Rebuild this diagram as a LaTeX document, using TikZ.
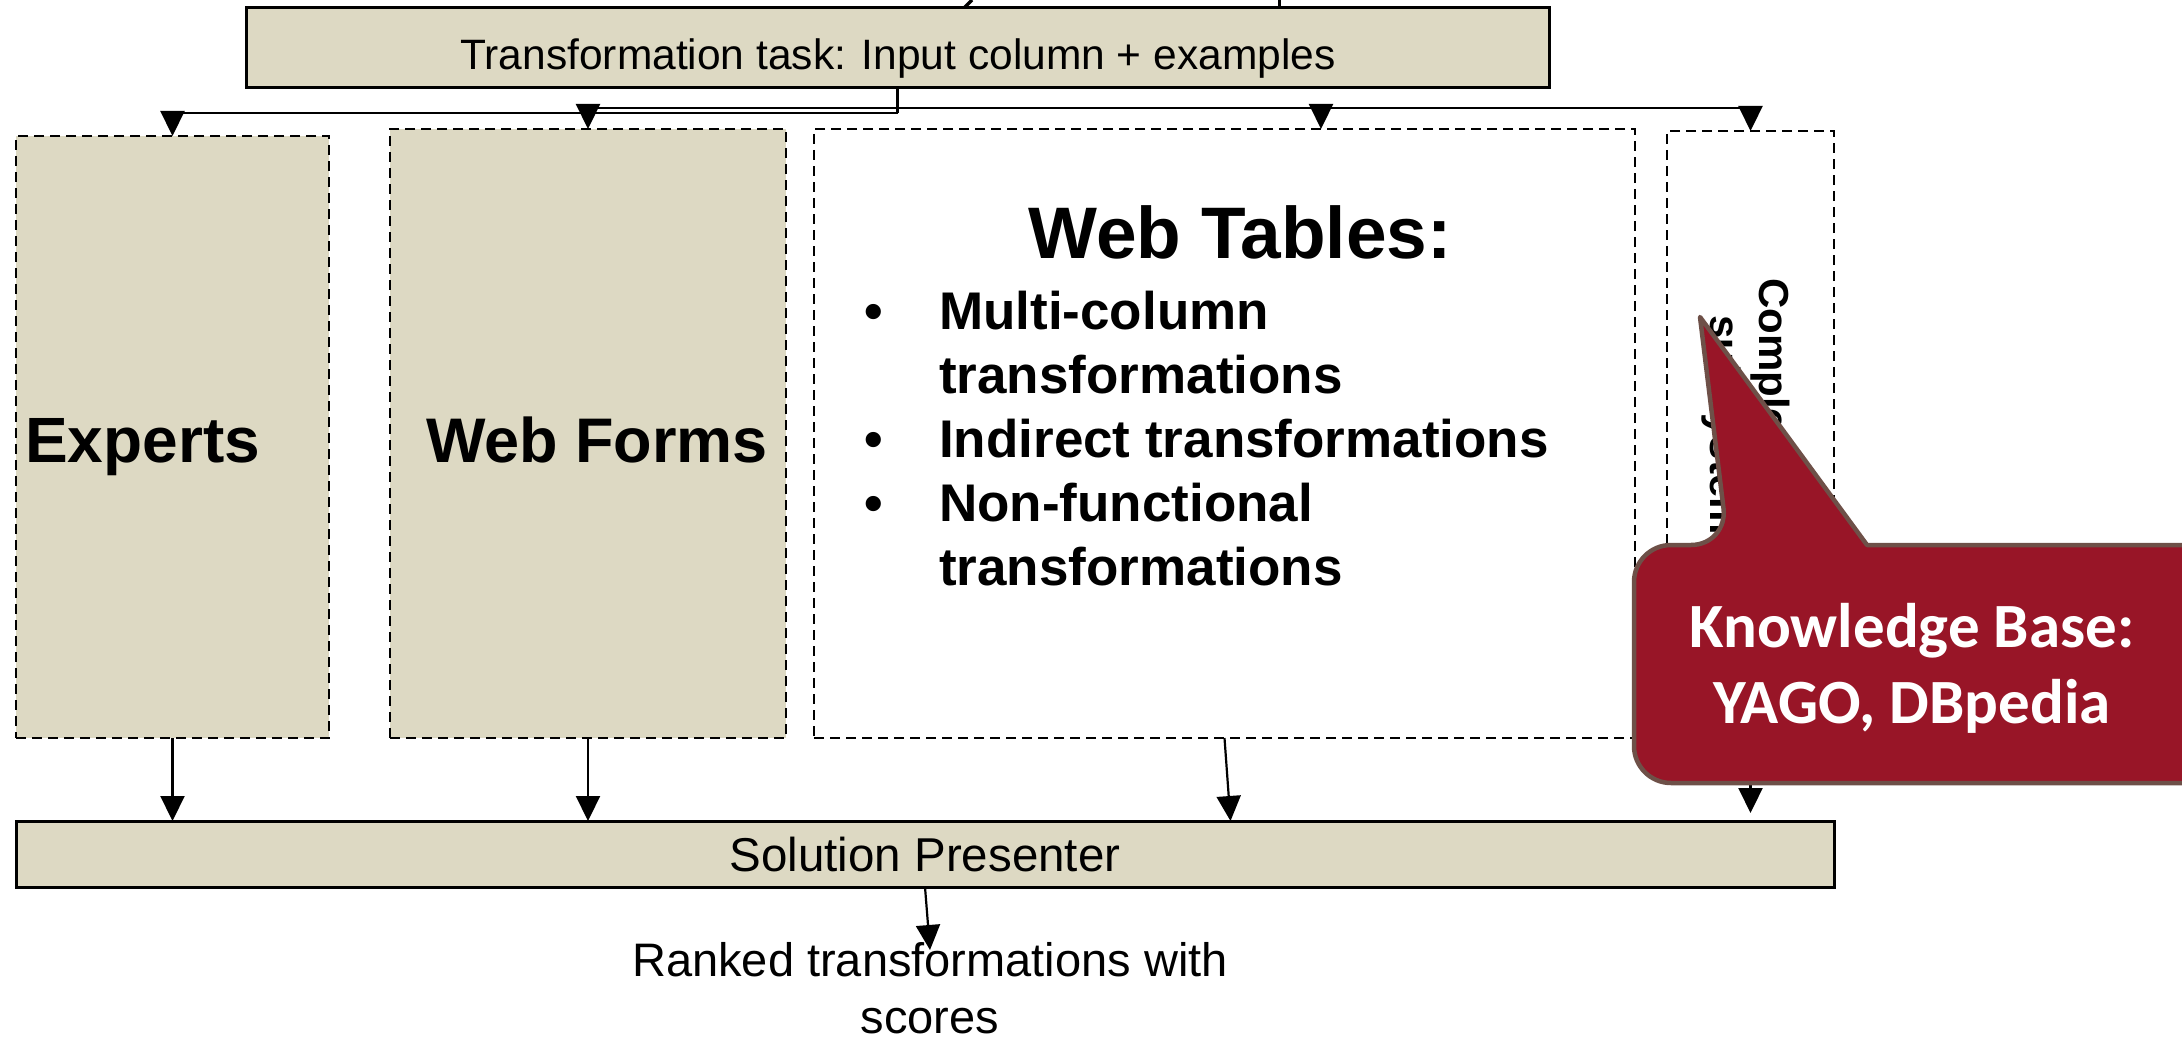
\documentclass[tikz,border=0pt]{standalone}
\usepackage{fontspec}
\setmainfont{Liberation Sans}
\newfontfamily\kbfont{Carlito}
\usetikzlibrary{arrows.meta,calc}
\definecolor{tanfill}{HTML}{DDD9C3}
\definecolor{kbred}{HTML}{981527}
\definecolor{kbedge}{HTML}{6E5048}
\begin{document}
\begin{tikzpicture}[x=1pt,y=-1pt,
  solidbox/.style={draw=black,line width=3pt,fill=tanfill,inner sep=0pt,outer sep=0pt},
  dashbox/.style={draw=black,line width=2.5pt,dash pattern=on 10pt off 6pt,inner sep=0pt,outer sep=0pt},
  conn/.style={draw=black,line width=2.2pt,-{Triangle[length=25pt,width=24pt]}},
  plainline/.style={draw=black,line width=2.2pt},
  bul/.style={anchor=base,font=\bfseries\fontsize{53}{64}\selectfont,inner sep=0pt},
  item/.style={anchor=base west,font=\bfseries\fontsize{53}{64}\selectfont,inner sep=0pt},
]
\useasboundingbox (0,0) rectangle (2182,1038);
\fill[white] (0,0) rectangle (2182,1038);
\clip (0,0) rectangle (2182,1038);

% fragments of cut-off title
\draw[line width=3.5pt] (972,0) -- (963,9);
\draw[line width=3pt] (1279,0) -- (1279,8);
\fill (1272,6) rectangle (1281,11);

% boxes
\node[solidbox,minimum width=1303pt,minimum height=80pt] (task) at (897.5,48) {};
\node[anchor=base,inner sep=0pt,font=\fontsize{42.5}{51}\selectfont] (tasktext) at (898,70) {Transformation task: Input column + examples};

\node[dashbox,fill=tanfill,minimum width=313pt,minimum height=602pt] (experts) at (172.5,437) {};
\node[dashbox,fill=tanfill,minimum width=396pt,minimum height=609pt] (webforms) at (588,433.5) {};
\node[dashbox,fill=white,minimum width=821pt,minimum height=609pt] (webtables) at (1224.5,433.5) {};
\node[dashbox,fill=white,minimum width=167pt,minimum height=607pt] (compl) at (1750.5,434.5) {};

\node[solidbox,minimum width=1818pt,minimum height=66pt] (sp) at (925,854) {};
\node[anchor=base,inner sep=0pt,font=\fontsize{47.5}{57}\selectfont] (sptext) at (925,871) {Solution Presenter};

% labels
\node[anchor=base west,inner sep=0pt,font=\bfseries\fontsize{64}{77}\selectfont] (expertstext) at (25,462) {Experts};
\node[anchor=base,inner sep=0pt,font=\bfseries\fontsize{63}{76}\selectfont] (webformstext) at (597,462) {Web Forms};

\node[anchor=base,inner sep=0pt,font=\bfseries\fontsize{73}{88}\selectfont] (wttitle) at (1240,258) {Web Tables:};
\node[bul] (b1) at (874,329) {\textbullet};
\node[item] (i1a) at (939,329) {Multi-column};
\node[item] (i1b) at (939,393) {transformations};
\node[bul] (b2) at (874,457) {\textbullet};
\node[item] (i2) at (939,457) {Indirect transformations};
\node[bul] (b3) at (874,521) {\textbullet};
\node[item] (i3a) at (939,521) {Non-functional};
\node[item] (i3b) at (939,585) {transformations};

\node[rotate=-90,align=center,inner sep=0pt,font=\bfseries\fontsize{42}{49}\selectfont] (compltext) at (1746,437) {Complementary\\subsystems};

\node[anchor=north,align=center,inner sep=0pt,font=\fontsize{47}{57}\selectfont] (result) at (930,942) {Ranked transformations with\\scores};

% top connectors
\coordinate (j1) at (897.5,113);
\coordinate (j2) at (897.5,108);
\draw[plainline] (task.south) -- (j1);
\draw[conn] (j1) -- (j1 -| experts.north) -- (experts.north);
\draw[conn] (j2) -- (j2 -| webforms.north) -- (webforms.north);
\draw[conn] (j2) -- ($(j2 -| webtables.north)+(96.5,0)$) -- ($(webtables.north)+(96.5,0)$);
\draw[conn] (j2) -- (j2 -| compl.north) -- (compl.north);

% bottom connectors
\draw[conn] (experts.south) -- (experts.south |- sp.north);
\draw[conn] (webforms.south) -- (webforms.south |- sp.north);
\draw[conn] (webtables.south) -- ($(webtables.south |- sp.north)+(6,0)$);
\draw[conn] (compl.south) -- ($(compl.south |- sp.north)+(0,-8)$);
\draw[conn] (sp.south) -- ($(result.north)+(0,8)$);

% callout
\draw[kbedge,fill=kbred,line width=4.5pt,line join=round]
  (1700,317) -- (1867,545) -- (2240,545) [rounded corners=37pt] -- (2240,783) -- (1634,783) -- (1634,545) -- (1728,545) [sharp corners] -- cycle;
\node[anchor=north,align=center,inner sep=0pt,text=white,font=\kbfont\bfseries\fontsize{63}{76}\selectfont] (kb) at (1912,603) {Knowledge Base:\\YAGO, DBpedia};
\end{tikzpicture}
\end{document}
